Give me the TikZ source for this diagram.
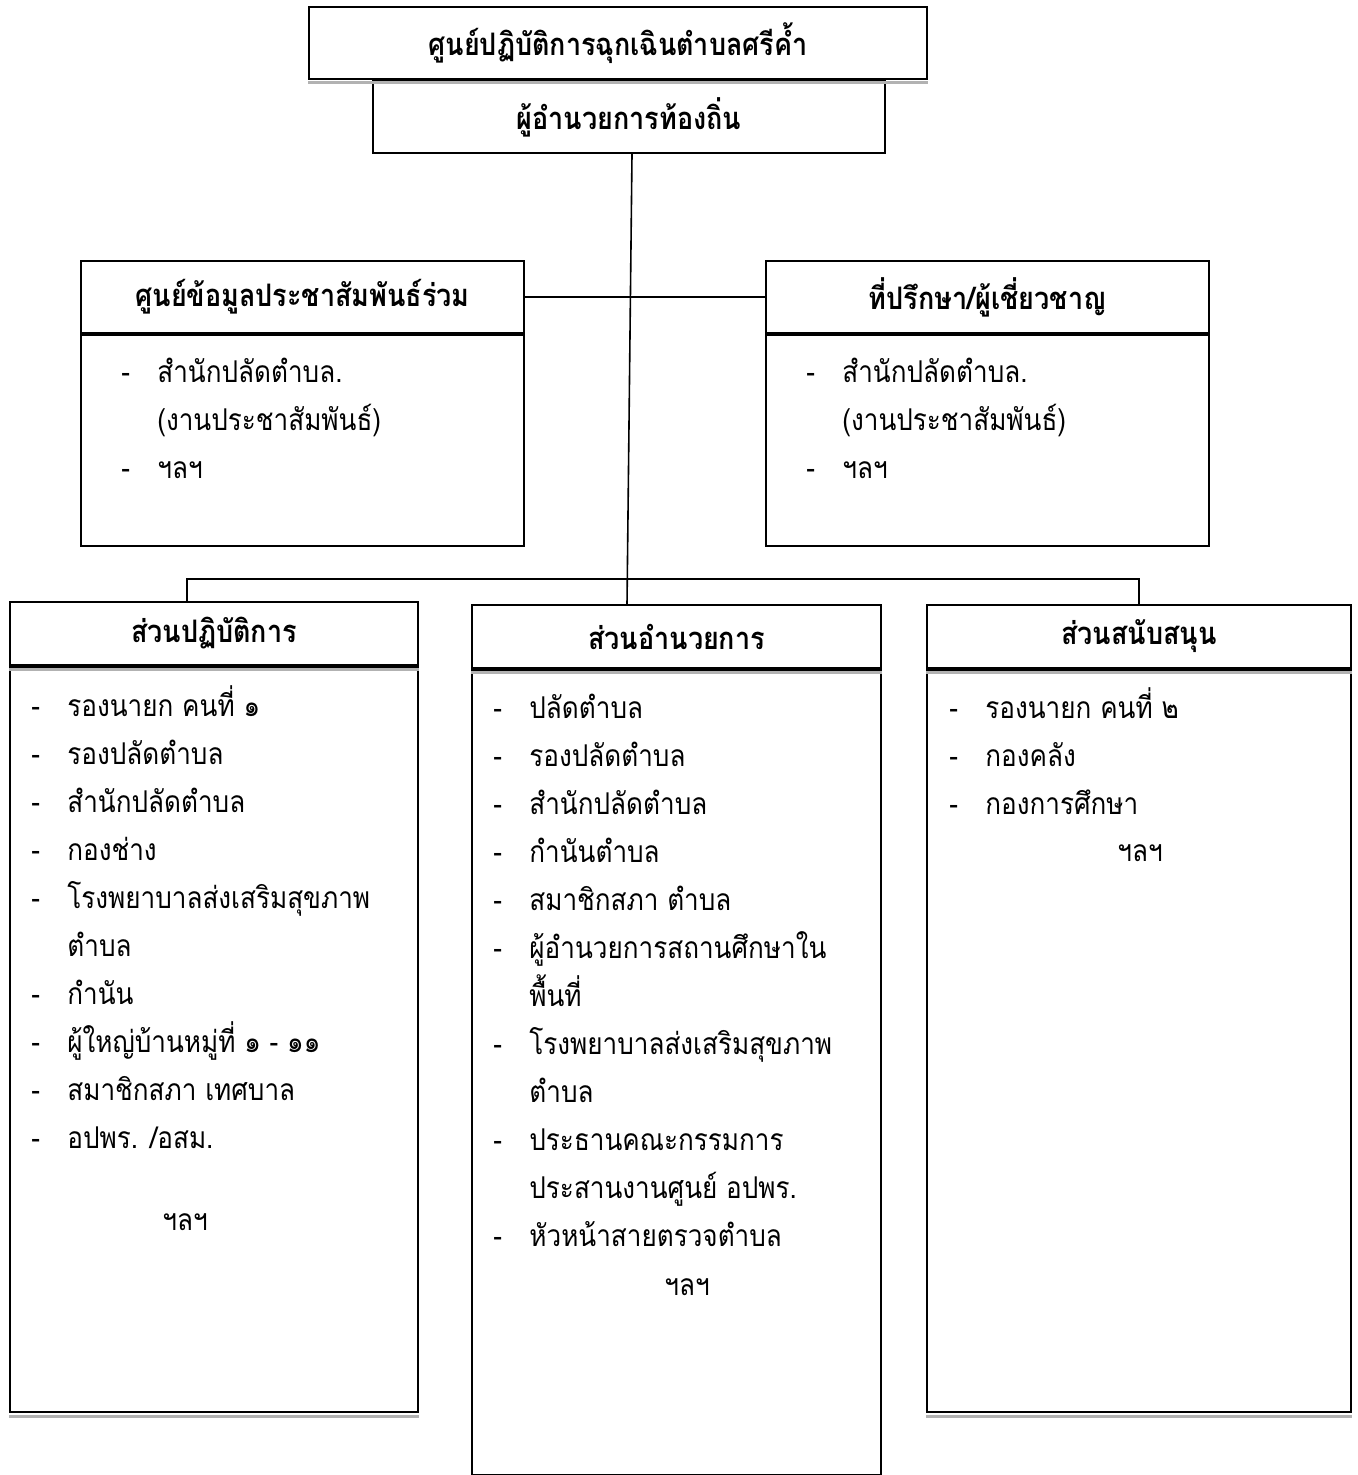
\documentclass[tikz,border=0pt]{standalone}
\usepackage{fontspec}
\newfontfamily\thaifont[Script=Thai, FakeStretch=0.87]{Loma}
\usetikzlibrary{positioning}
\newcommand{\listitem}[1]{\makebox[18pt][l]{-}#1}
\newcommand{\listcont}[1]{\hspace*{18pt}#1}

\begin{document}
\begin{tikzpicture}[x=0.5pt, y=-0.5pt,
    box/.style={draw, line width=1pt, inner sep=0pt, font=\thaifont\bfseries\fontsize{15.5}{18}\selectfont},
    list/.style={anchor=base west, align=left, inner sep=0pt, font=\thaifont\fontsize{15}{24}\selectfont},
    etc/.style={inner sep=0pt, font=\thaifont\fontsize{15}{18}\selectfont},
    shade/.style={draw=gray!60, line width=1.5pt},
    link/.style={draw, line width=0.8pt}]
    \useasboundingbox (0,0) rectangle (1357,1475);

    % top
    \node[box, minimum width=309pt, minimum height=36pt] (eoc) at (618,43) {ศูนย์ปฏิบัติการฉุกเฉินตำบลศรีค้ำ};
    \node[box, minimum width=256pt, minimum height=36pt] (dir) at (629,117) {ผู้อำนวยการท้องถิ่น};

    % info and advisers
    \node[box, minimum width=221.5pt, minimum height=36pt] (pr) at (302.5,297) {ศูนย์ข้อมูลประชาสัมพันธ์ร่วม};
    \node[box, minimum width=221.5pt, minimum height=105.5pt, below=0pt of pr] (prbody) {};
    \node[box, minimum width=221.5pt, minimum height=36pt] (adv) at (987.5,297) {ที่ปรึกษา/ผู้เชี่ยวชาญ};
    \node[box, minimum width=221.5pt, minimum height=105.5pt, below=0pt of adv] (advbody) {};

    % base = last line
    \node[list] (prlist) at (121,479) {\listitem{สำนักปลัดตำบล.}\\ \listcont{(งานประชาสัมพันธ์)}\\ \listitem{ฯลฯ}};
    \node[list] (advlist) at (806,479) {\listitem{สำนักปลัดตำบล.}\\ \listcont{(งานประชาสัมพันธ์)}\\ \listitem{ฯลฯ}};

    % three sections
    \node[box, minimum width=204pt, minimum height=31.5pt] (ops) at (214,633.5) {ส่วนปฏิบัติการ};
    \node[box, minimum width=204pt, minimum height=372.5pt, below=0pt of ops] (opsbody) {};
    \node[box, minimum width=204.5pt, minimum height=31.5pt] (adm) at (676.5,636.5) {ส่วนอำนวยการ};
    \node[box, minimum width=204.5pt, minimum height=402.5pt, below=0pt of adm] (admbody) {};
    \node[box, minimum width=212pt, minimum height=31.5pt] (sup) at (1139,636.5) {ส่วนสนับสนุน};
    \node[box, minimum width=212pt, minimum height=371pt, below=0pt of sup] (supbody) {};

    \node[list] (opslist) at (31,1148) {\listitem{รองนายก คนที่ ๑}\\ \listitem{รองปลัดตำบล}\\ \listitem{สำนักปลัดตำบล}\\
        \listitem{กองช่าง}\\ \listitem{โรงพยาบาลส่งเสริมสุขภาพ}\\ \listcont{ตำบล}\\ \listitem{กำนัน}\\
        \listitem{ผู้ใหญ่บ้านหมู่ที่ ๑ - ๑๑}\\ \listitem{สมาชิกสภา เทศบาล}\\ \listitem{อปพร. /อสม.}};
    \node[etc] (opsetc) at (185,1222) {ฯลฯ};

    \node[list] (admlist) at (493,1246) {\listitem{ปลัดตำบล}\\ \listitem{รองปลัดตำบล}\\ \listitem{สำนักปลัดตำบล}\\
        \listitem{กำนันตำบล}\\ \listitem{สมาชิกสภา ตำบล}\\ \listitem{ผู้อำนวยการสถานศึกษาใน}\\ \listcont{พื้นที่}\\
        \listitem{โรงพยาบาลส่งเสริมสุขภาพ}\\ \listcont{ตำบล}\\ \listitem{ประธานคณะกรรมการ}\\
        \listcont{ประสานงานศูนย์ อปพร.}\\ \listitem{หัวหน้าสายตรวจตำบล}};
    \node[etc] (admetc) at (687,1287) {ฯลฯ};

    \node[list] (suplist) at (949,814) {\listitem{รองนายก คนที่ ๒}\\ \listitem{กองคลัง}\\ \listitem{กองการศึกษา}};
    \node[etc] (supetc) at (1140,853) {ฯลฯ};

    % shadows
    \draw[shade] ([yshift=-1.5pt]eoc.south west) -- ([yshift=-1.5pt]eoc.south east);
    \draw[shade] ([yshift=-1.5pt]ops.south west) -- ([yshift=-1.5pt]ops.south east);
    \draw[shade] ([yshift=-1.5pt]adm.south west) -- ([yshift=-1.5pt]adm.south east);
    \draw[shade] ([yshift=-1.5pt]sup.south west) -- ([yshift=-1.5pt]sup.south east);
    \draw[shade] ([yshift=-1.5pt]opsbody.south west) -- ([yshift=-1.5pt]opsbody.south east);
    \draw[shade] ([yshift=-1.5pt]supbody.south west) -- ([yshift=-1.5pt]supbody.south east);

    % connectors
    \coordinate (bus) at (627,579);
    \path[link] ([xshift=1.5pt]dir.south) -- ([xshift=-24.75pt]adm.north);
    \path[link] (pr.east) -- (adv.west);
    \path[link] ([xshift=-13.5pt]ops.north) |- (bus) -| (sup.north);
\end{tikzpicture}
\end{document}
